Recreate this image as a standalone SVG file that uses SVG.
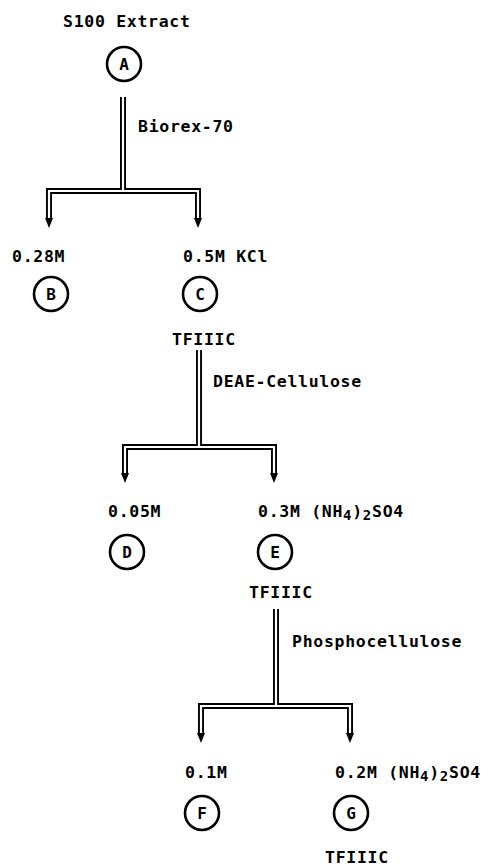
<svg xmlns="http://www.w3.org/2000/svg" width="488" height="866" viewBox="0 0 488 866">
<style>
text{font-family:"DejaVu Sans Mono","Liberation Mono",monospace;font-weight:bold;font-size:16.5px;letter-spacing:0.7px;fill:#000}
.sub{font-size:14px}
.lbl{text-anchor:middle;font-size:16px;letter-spacing:0}
.ring{fill:#fff;stroke:#000;stroke-width:2.6}
.pipe{fill:none;stroke:#000;stroke-width:6;stroke-linejoin:miter}
.gap{fill:none;stroke:#fff;stroke-width:2.2;stroke-linejoin:miter}
.tip{fill:#000}
</style>
<rect width="488" height="866" fill="#fff"/>
<g id="connectors">
<path class="pipe" d="M123 97V191M49 219V191H198V219"/>
<path class="gap" d="M123 97V191M49 218V191H198V218"/>
<polygon class="tip" points="45,218 53,218 49,228"/>
<polygon class="tip" points="194,218 202,218 198,228"/>
<path class="pipe" d="M199 350V447M125 474V447H274V474"/>
<path class="gap" d="M199 350V447M125 473V447H274V473"/>
<polygon class="tip" points="121,473 129,473 125,483"/>
<polygon class="tip" points="270,473 278,473 274,483"/>
<path class="pipe" d="M276 609V706M201 734V706H350V734"/>
<path class="gap" d="M276 609V706M201 733V706H350V733"/>
<polygon class="tip" points="197,733 205,733 201,743"/>
<polygon class="tip" points="346,733 354,733 350,743"/>
<text x="138" y="132">Biorex-70</text>
<text x="213" y="387">DEAE-Cellulose</text>
<text x="292" y="647">Phosphocellulose</text>
</g>
<g id="A">
<text x="63" y="27">S100 Extract</text>
<circle class="ring" cx="124" cy="64" r="17"/>
<text class="lbl" x="124" y="70">A</text>
</g>
<g id="B">
<text x="12" y="262">0.28M</text>
<circle class="ring" cx="51" cy="294" r="17"/>
<text class="lbl" x="51" y="300">B</text>
</g>
<g id="C">
<text x="183" y="262">0.5M KCl</text>
<circle class="ring" cx="200" cy="294" r="17"/>
<text class="lbl" x="200" y="300">C</text>
<text x="172" y="345">TFIIIC</text>
</g>
<g id="D">
<text x="108" y="517">0.05M</text>
<circle class="ring" cx="127" cy="552" r="17"/>
<text class="lbl" x="127" y="558">D</text>
</g>
<g id="E">
<text x="258" y="517">0.3M (NH<tspan class="sub" dy="3">4</tspan><tspan dy="-3">)</tspan><tspan class="sub" dy="3">2</tspan><tspan dy="-3">SO4</tspan></text>
<circle class="ring" cx="275" cy="552" r="17"/>
<text class="lbl" x="275" y="558">E</text>
<text x="249" y="598">TFIIIC</text>
</g>
<g id="F">
<text x="185" y="778">0.1M</text>
<circle class="ring" cx="202" cy="813" r="17"/>
<text class="lbl" x="202" y="819">F</text>
</g>
<g id="G">
<text x="335" y="778">0.2M (NH<tspan class="sub" dy="3">4</tspan><tspan dy="-3">)</tspan><tspan class="sub" dy="3">2</tspan><tspan dy="-3">SO4</tspan></text>
<circle class="ring" cx="351" cy="813" r="17"/>
<text class="lbl" x="351" y="819">G</text>
<text x="325" y="863">TFIIIC</text>
</g>
</svg>
